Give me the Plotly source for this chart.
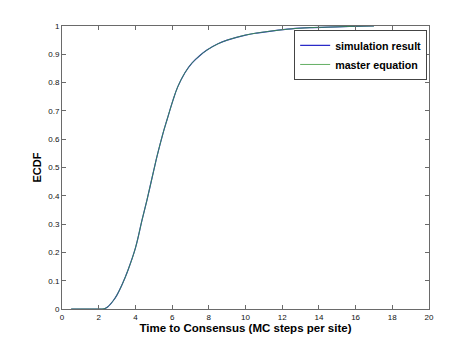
import plotly.graph_objects as go

# Data
time_steps = [0.5, 1.0, 1.5, 2.0, 2.3, 2.5, 2.8, 3.0, 3.3, 3.6, 4.0, 4.36, 4.63, 5.0, 5.18,
              5.5, 5.72, 6.05, 6.3, 6.7, 7.08, 7.5, 7.9, 8.5, 9.0, 10.0, 10.6, 11.5, 12.5,
              13.5, 15.0, 16.0, 17.0]
sim_ecdf = [0, 0, 0, 0, 0.001, 0.008, 0.03, 0.05, 0.09, 0.138, 0.215, 0.314, 0.385, 0.49,
            0.54, 0.62, 0.668, 0.738, 0.784, 0.835, 0.869, 0.895, 0.915, 0.937, 0.95, 0.968,
            0.975, 0.983, 0.99, 0.994, 0.997, 0.999, 1.0]
master_ecdf = [0, 0, 0, 0, 0.001, 0.008, 0.03, 0.05, 0.09, 0.138, 0.215, 0.314, 0.385, 0.49,
               0.54, 0.62, 0.668, 0.738, 0.784, 0.835, 0.869, 0.895, 0.915, 0.937, 0.95, 0.968,
               0.975, 0.983, 0.99, 0.994, 0.997, 0.999, 1.0]

x_ticks = [0, 2, 4, 6, 8, 10, 12, 14, 16, 18, 20]
y_ticks = [0, 0.1, 0.2, 0.3, 0.4, 0.5, 0.6, 0.7, 0.8, 0.9, 1]
y_tick_labels = ["0", "0.1", "0.2", "0.3", "0.4", "0.5", "0.6", "0.7", "0.8", "0.9", "1"]

FONT = "Arial, Liberation Sans, Helvetica, sans-serif"
AXIS_COLOR = "#6a6a6a"

fig = go.Figure()
fig.add_trace(go.Scatter(x=time_steps, y=sim_ecdf, mode="lines", name="simulation result",
                         line=dict(color="#2a2ac8", width=1.2, shape="spline")))
fig.add_trace(go.Scatter(x=time_steps, y=master_ecdf, mode="lines", name="master equation",
                         line=dict(color="#3c9a3c", width=0.8, shape="spline")))

fig.update_layout(
    width=474, height=348,
    margin=dict(l=62, r=45, t=26, b=39),
    paper_bgcolor="white", plot_bgcolor="white",
    font=dict(family=FONT, size=8, color="#111111"),
    showlegend=True,
    legend=dict(
        x=0.995, y=0.986, xanchor="right", yanchor="top",
        bordercolor="#444444", borderwidth=1, bgcolor="white",
        font=dict(family=FONT, size=10.7, color="#000000", weight="bold"),
        itemwidth=30, tracegroupgap=0,
    ),
    xaxis=dict(
        range=[0, 20], tickvals=x_ticks, ticks="inside", ticklen=4,
        tickcolor=AXIS_COLOR, showline=True, linecolor=AXIS_COLOR, linewidth=1,
        mirror="allticks", showgrid=False, zeroline=False,
        tickfont=dict(size=8),
        title=dict(text="Time to Consensus (MC steps per site)",
                   font=dict(family=FONT, size=11.5, weight="bold", color="#000000"),
                   standoff=3),
    ),
    yaxis=dict(
        range=[0, 1], tickvals=y_ticks, ticktext=y_tick_labels, ticks="inside", ticklen=4,
        tickcolor=AXIS_COLOR, showline=True, linecolor=AXIS_COLOR, linewidth=1,
        mirror="allticks", showgrid=False, zeroline=False,
        tickfont=dict(size=8),
        title=dict(text="ECDF",
                   font=dict(family=FONT, size=11, weight="bold", color="#000000"),
                   standoff=4),
    ),
)

fig.write_html("out.html")
